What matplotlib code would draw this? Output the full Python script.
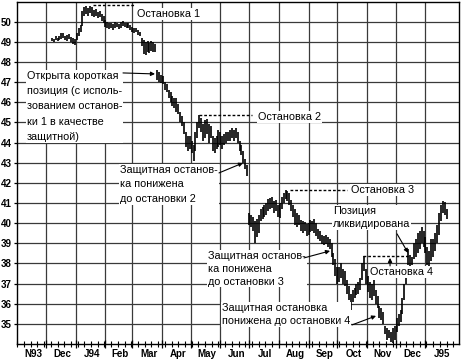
import numpy as np
import matplotlib
matplotlib.use("Agg")
import matplotlib.pyplot as plt

plt.rcParams['font.family'] = ['Liberation Sans', 'DejaVu Sans']

# ---- data ----
start_day = 36          # first bar, days after 1993-11-01
day_step = 2
lows = [
    49.05, 49.0, 49.1, 49.05, 49.1, 49.15, 49.2, 49.1, 49.05, 49.15,
    49.0, 48.9, 48.85, 49.1, 49.3, 49.5, 49.8, 50.3, 50.4, 50.3,
    50.45, 50.3, 50.25, 50.3, 50.2, 50.25, 50.05, 49.95, 49.75, 49.7,
    49.65, 49.7, 49.6, 49.7, 49.75, 49.65, 49.7, 49.8, 49.75, 49.7,
    49.7, 49.6, 49.5, 49.45, 49.5, 49.35, 49.3, 48.8, 48.4, 48.35,
    48.5, 48.45, 48.55, 48.5, 48.5, 47.1, 47.0, 46.95, 46.9, 46.6,
    46.5, 46.2, 46.0, 45.8, 45.7, 45.5, 45.4, 45.0, 44.8, 44.4,
    43.8, 43.6, 43.7, 43.5, 43.1, 43.6, 44.2, 44.7, 44.5, 44.1,
    44.2, 44.4, 44.0, 44.2, 43.6, 43.5, 43.7, 43.8, 43.9, 43.7,
    43.9, 44.0, 44.1, 44.1, 44.2, 44.1, 44.2, 44.0, 43.6, 43.4,
    43.0, 42.7, 42.35, 39.9, 39.8, 39.6, 39.0, 39.3, 39.5, 40.1,
    40.2, 40.3, 40.4, 40.6, 40.7, 40.75, 40.5, 40.6, 40.3, 40.25,
    40.7, 41.0, 41.2, 41.1, 40.9, 40.6, 40.3, 39.9, 39.8, 39.9,
    39.6, 39.5, 39.6, 39.35, 39.4, 39.55, 39.6, 39.5, 39.35, 39.2,
    39.1, 38.95, 38.9, 38.95, 38.8, 38.7, 38.3, 37.9, 37.4, 37.0,
    37.1, 37.3, 37.0, 36.9, 36.5, 36.2, 35.7, 36.1, 36.3, 36.45,
    36.5, 36.7, 37.2, 37.6, 37.0, 36.6, 36.3, 36.2, 36.4, 36.0,
    35.8, 35.3, 35.2, 35.0, 34.5, 34.2, 34.3, 34.1, 34.05, 34.2,
    34.6, 34.9, 35.1, 35.5, 36.2, 37.0, 37.9, 37.8, 37.9, 38.2,
    38.3, 38.5, 38.7, 39.0, 38.8, 38.5, 37.9, 37.8, 38.1, 38.3,
    38.6, 39.0, 39.4, 40.1, 40.5, 40.4, 40.2]
highs = [
    49.2, 49.15, 49.3, 49.2, 49.3, 49.45, 49.45, 49.3, 49.35, 49.4,
    49.25, 49.2, 49.15, 49.45, 49.7, 49.85, 50.55, 50.75, 50.8, 50.7,
    50.8, 50.75, 50.6, 50.65, 50.5, 50.55, 50.4, 50.3, 50.1, 50.0,
    49.95, 49.95, 49.9, 50.0, 49.95, 49.9, 50.0, 50.05, 49.95, 49.95,
    49.95, 49.85, 49.75, 49.7, 49.7, 49.6, 49.5, 49.2, 49.1, 49.0,
    49.05, 48.95, 49.05, 49.0, 48.9, 47.6, 47.5, 47.35, 47.3, 47.0,
    46.9, 46.6, 46.5, 46.3, 46.2, 46.2, 45.9, 45.5, 45.3, 45.0,
    44.5, 44.3, 44.3, 44.1, 43.9, 44.5, 45.0, 45.35, 45.2, 44.9,
    45.1, 45.15, 44.9, 44.8, 44.3, 44.2, 44.3, 44.6, 44.5, 44.3,
    44.4, 44.5, 44.5, 44.6, 44.7, 44.6, 44.7, 44.5, 44.1, 43.9,
    43.6, 43.2, 42.9, 40.5, 40.4, 40.3, 40.1, 40.2, 40.4, 40.7,
    40.8, 40.9, 41.0, 41.2, 41.25, 41.3, 41.1, 41.15, 40.9, 41.0,
    41.3, 41.5, 41.65, 41.6, 41.5, 41.15, 40.9, 40.7, 40.5, 40.4,
    40.15, 40.1, 40.05, 39.95, 40.0, 40.15, 40.1, 40.2, 40.0, 39.7,
    39.6, 39.4, 39.35, 39.4, 39.3, 39.2, 39.0, 38.5, 38.2, 37.8,
    37.8, 38.0, 37.7, 37.6, 37.2, 36.9, 36.5, 36.7, 36.8, 37.0,
    37.1, 37.3, 38.0, 38.35, 37.7, 37.4, 37.1, 37.0, 37.2, 36.7,
    36.4, 35.9, 35.8, 35.6, 34.9, 34.8, 34.7, 34.6, 34.8, 34.9,
    35.3, 35.5, 35.7, 36.3, 37.0, 37.6, 38.7, 38.4, 38.3, 39.0,
    39.2, 39.5, 39.6, 39.8, 39.6, 39.3, 38.8, 38.6, 39.2, 39.2,
    39.5, 39.9, 40.5, 40.9, 41.1, 41.05, 40.7]

# stops: level, first day, last day
stop_levels = [50.85, 45.35, 41.65, 38.35]
stop_from = [79, 190, 285, 361]
stop_to = [123, 245, 344, 408]
stop_labels = ["Остановка 1", "Остановка 2", "Остановка 3", "Остановка 4"]

month_labels = ["N93", "Dec", "J94", "Feb", "Mar", "Apr", "May", "Jun",
                "Jul", "Aug", "Sep", "Oct", "Nov", "Dec", "J95"]
y_ticks = list(range(35, 51))

# ---- layout ----
W, H = 462, 361
fig = plt.figure(figsize=(W / 100, H / 100), dpi=100)
ax = fig.add_axes([16.5 / W, 17 / H, (459 - 16.5) / W, (344 - 1.5) / H])
ax.set_xlim(-0.8, 461)
ax.set_ylim(34, 51)

def px(x, y):
    """pixel position in the picture -> data coordinates (for labels)"""
    return ((x - 17.3) / 0.958, 50 - (y - 21.7) / 20.15)

origin = np.datetime64('1993-11-01')
months = np.arange('1993-11', '1995-03', dtype='datetime64[M]').astype('datetime64[D]')
month_days = (months - origin).astype(int)
month_starts = month_days[1:-1]
month_centers = (month_days[:-1] + month_days[1:]) / 2.0 + 1.5

days = start_day + day_step * np.arange(len(lows))

# grid
for yv in y_ticks:
    ax.axhline(yv, color='#3a3a3a', lw=0.9, zorder=1)
for xv in month_starts:
    ax.axvline(xv, color='#3a3a3a', lw=0.9, zorder=1)

# price bars
ax.vlines(days, lows, highs, color='black', lw=1.2, zorder=3)

# stop lines
for lev, a, b in zip(stop_levels, stop_from, stop_to):
    ax.plot([a, b], [lev, lev], color='black', lw=1.0,
            linestyle=(0, (2, 1.4)), zorder=3)

tk = dict(fontsize=7.8, color='black', zorder=5,
          bbox=dict(facecolor='white', edgecolor='none', pad=0.6))

ax.text(*px(137, 14), stop_labels[0], ha='left', va='center', **tk)
ax.text(*px(258, 117), stop_labels[1], ha='left', va='center', **tk)
ax.text(*px(351, 190), stop_labels[2], ha='left', va='center', **tk)
ax.text(*px(370, 272), stop_labels[3], ha='left', va='center', **tk)

ax.text(*px(27, 71), "Открыта короткая\nпозиция (с исполь-\nзованием останов-\nки 1 в качестве\nзащитной)",
        ha='left', va='top', linespacing=1.65, **tk)
ax.text(*px(120, 165), "Защитная останов-\nка понижена\nдо остановки 2",
        ha='left', va='top', linespacing=1.55, **tk)
ax.text(*px(333, 206), "Позиция\nликвидирована",
        ha='left', va='top', linespacing=1.35, **tk)
ax.text(*px(208, 251), "Защитная останов-\nка понижена\nдо остановки 3",
        ha='left', va='top', linespacing=1.35, **tk)
ax.text(*px(222, 303), "Защитная остановка\nпонижена до остановки 4",
        ha='left', va='top', linespacing=1.4, **tk)

ap = dict(arrowstyle='-|>', lw=0.8, color='black', mutation_scale=6,
          shrinkA=0, shrinkB=0)
arrows = [((123, 73), (155, 74)), ((219, 173), (243, 163)),
          ((304, 258), (330, 251)), ((397, 234), (408, 253)),
          ((390, 266), (390, 258)), ((352, 325), (376, 316))]
for (s, t) in arrows:
    ax.annotate("", xy=px(*t), xytext=px(*s), arrowprops=ap, zorder=6)

# axes / ticks
ax.set_yticks(y_ticks)
ax.set_yticklabels([str(v) for v in y_ticks], fontsize=7, fontweight='bold')
ax.tick_params(axis='y', length=2.5, width=0.9, pad=1, direction='out')
ax.set_xticks(month_starts)
ax.set_xticklabels([])
ax.set_xticks(np.arange(0, 461, 7), minor=True)
ax.tick_params(axis='x', which='major', length=6, width=0.9, direction='inout')
ax.tick_params(axis='x', which='minor', length=4, width=0.8, direction='inout')
for c, lab in zip(month_centers, month_labels):
    ax.text(c, -0.029, lab, transform=ax.get_xaxis_transform(), ha='center',
            va='center', fontsize=7, fontweight='bold')
for sp in ax.spines.values():
    sp.set_linewidth(1.0)
    sp.set_color('black')

fig.savefig("out.png", dpi=100)
